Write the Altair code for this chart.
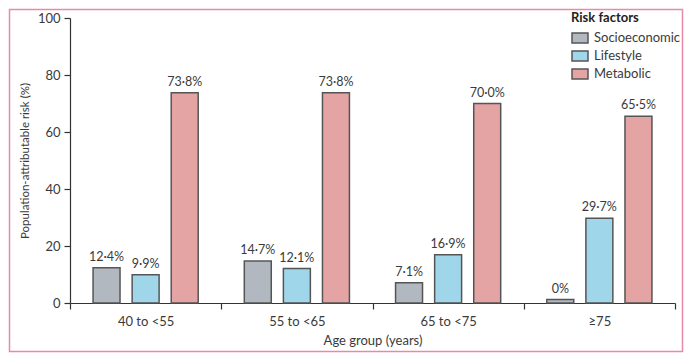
import altair as alt
import pandas as pd

age_groups = ["40 to <55", "55 to <65", "65 to <75", "≥75"]
risk_factors = ["Socioeconomic", "Lifestyle", "Metabolic"]
colors = ["#b1b8bf", "#9fd6e9", "#e3a4a3"]

socioeconomic = [12.4, 14.7, 7.1, 1.2]
lifestyle = [9.9, 12.1, 16.9, 29.7]
metabolic = [73.8, 73.8, 70.0, 65.5]

socio_labels = ["12·4%", "14·7%", "7·1%", "0%"]
life_labels = ["9·9%", "12·1%", "16·9%", "29·7%"]
meta_labels = ["73·8%", "73·8%", "70·0%", "65·5%"]

rows = []
for i, g in enumerate(age_groups):
    for rf, vals, labs in zip(risk_factors,
                              [socioeconomic, lifestyle, metabolic],
                              [socio_labels, life_labels, meta_labels]):
        rows.append({"age": g, "risk": rf, "value": vals[i], "label": labs[i]})
df = pd.DataFrame(rows)

FONT = "Lato"
TXT = "#3a3a3a"
W, H = 605, 285

x_enc = alt.X("age:N", sort=age_groups,
              scale=alt.Scale(paddingInner=0, paddingOuter=0),
              axis=alt.Axis(title="Age group (years)", labelAngle=0,
                            tickBand="extent", tickSize=6, labelPadding=6,
                            titlePadding=6, domainColor="#333333",
                            tickColor="#333333", domainWidth=1.2, tickWidth=1.2))
xo_enc = alt.XOffset("risk:N", sort=risk_factors,
                     scale=alt.Scale(paddingInner=0.31, paddingOuter=0.59))
y_enc = alt.Y("value:Q",
              scale=alt.Scale(domain=[0, 100], nice=False),
              axis=alt.Axis(title="Population-attributable risk (%)",
                            values=[0, 20, 40, 60, 80, 100], grid=False,
                            tickSize=6, labelPadding=4, titlePadding=7,
                            titleFontSize=11.5,
                            domainColor="#333333", tickColor="#333333",
                            domainWidth=1.2, tickWidth=1.2))

base = alt.Chart(df)

bars = base.mark_bar(stroke="#555555", strokeWidth=1.5).encode(
    x=x_enc, xOffset=xo_enc, y=y_enc,
    color=alt.Color("risk:N", sort=risk_factors,
                    scale=alt.Scale(domain=risk_factors, range=colors),
                    legend=alt.Legend(
                        title="Risk factors", orient="none",
                        legendX=501, legendY=-6,
                        symbolType="M-1,-0.62H1V0.62H-1Z", symbolSize=256,
                        symbolStrokeColor="#555555", symbolStrokeWidth=1.5,
                        symbolOpacity=1, labelOffset=5, rowPadding=1,
                        titlePadding=4, padding=0)),
)

labels = base.mark_text(baseline="alphabetic", dy=-7, fontSize=12.5,
                        font=FONT, color=TXT).encode(
    x=x_enc, xOffset=xo_enc, y="value:Q", text="label:N")

border = alt.Chart(pd.DataFrame({"a": [0]})).mark_rect(
    fill="transparent", stroke="#e58aa9", strokeWidth=1.5).encode(
    x=alt.value(-60.5), x2=alt.value(612.5),
    y=alt.value(-8.5), y2=alt.value(333.5))

chart = alt.layer(border, bars, labels).properties(
    width=W, height=H,
    autosize=alt.AutoSizeParams(type="none"),
    padding={"left": 62, "top": 10, "right": 9, "bottom": 50},
).configure_view(stroke=None).configure_axis(
    labelFont=FONT, titleFont=FONT, labelFontSize=13, titleFontSize=13,
    labelColor=TXT, titleColor=TXT, titleFontWeight="normal",
).configure_legend(
    titleFont=FONT, labelFont=FONT, titleFontSize=13, labelFontSize=13,
    titleColor="#222222", labelColor=TXT, titleFontWeight="bold",
)

chart.save("out.html", embed_options={"renderer": "svg", "actions": False})
